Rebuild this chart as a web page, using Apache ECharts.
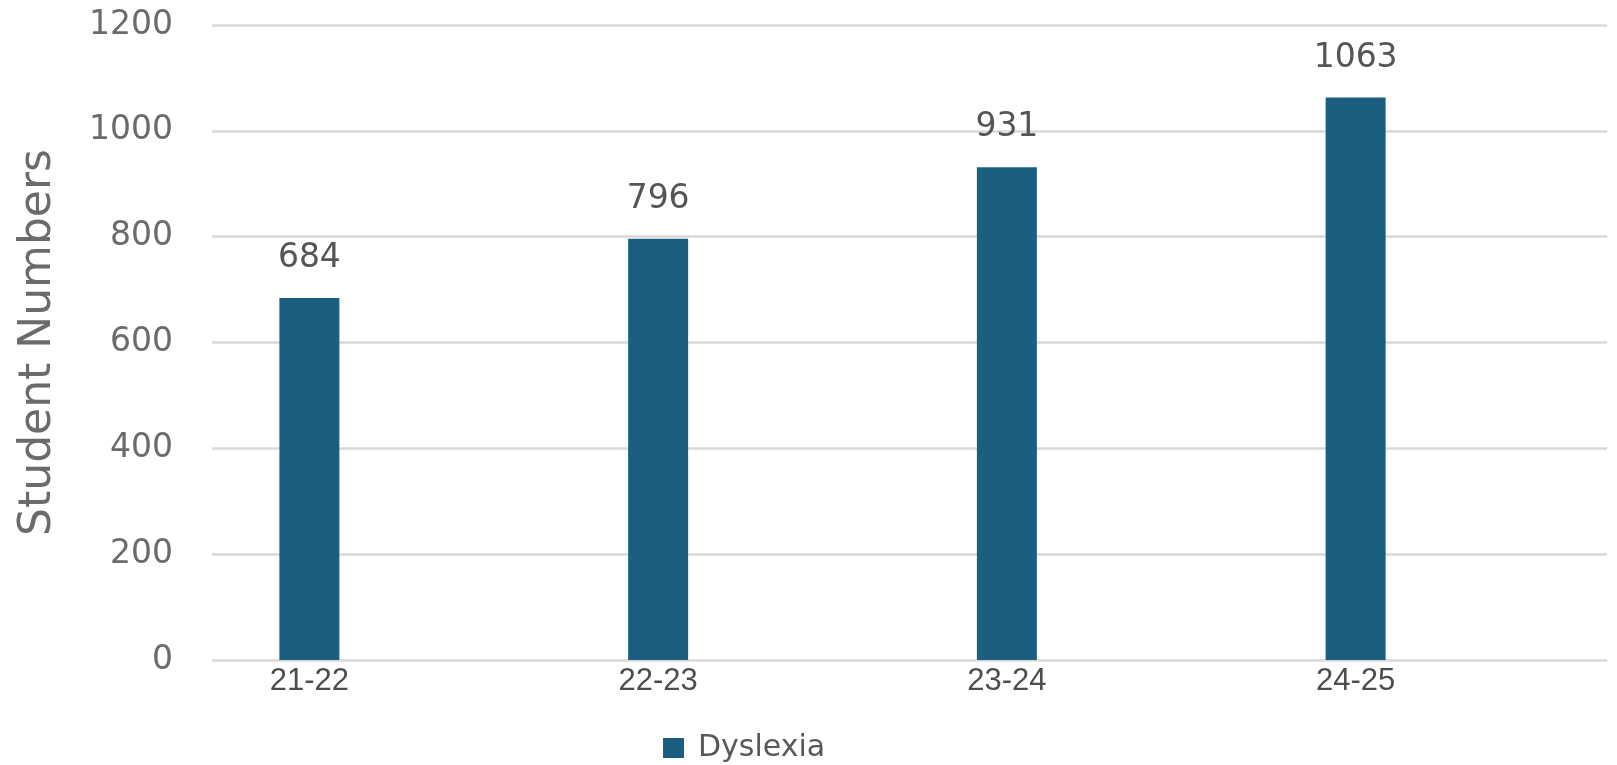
<!DOCTYPE html>
<html>
<head>
<meta charset="utf-8">
<script src="https://cdn.jsdelivr.net/npm/echarts@6/dist/echarts.min.js"></script>
<style>html,body{margin:0;padding:0;background:#fff;}#c{width:1617px;height:765px;}</style>
</head>
<body>
<div id="c"></div>
<script>
const categories = ['21-22', '22-23', '23-24', '24-25'];
const dyslexia = [684, 796, 931, 1063];
const seriesName = 'Dyslexia';
const yTicks = [0, 200, 400, 600, 800, 1000, 1200];

const chart = echarts.init(document.getElementById('c'));
chart.setOption({
  backgroundColor: '#fff',
  animation: false,
  legend: {
    left: 658, top: 728,
    itemWidth: 21, itemHeight: 20, itemGap: 8,
    icon: 'rect',
    textStyle: { fontFamily: 'DejaVu Sans', fontSize: 30, color: '#595959', padding: [0, 0, 0, 9] },
    data: [seriesName]
  },
  grid: [
    { left: 135, right: 87, top: 25, bottom: 105 },
    { left: 212, right: 10, top: 25, bottom: 105 }
  ],
  xAxis: [
    {
      gridIndex: 0, type: 'category', data: categories,
      axisLine: { show: false }, axisTick: { show: false },
      axisLabel: { margin: 6, fontFamily: 'Liberation Sans', fontSize: 31, color: '#4d4d4d' }
    },
    { gridIndex: 1, type: 'value', show: false, min: 0, max: 1 }
  ],
  yAxis: [
    { gridIndex: 0, type: 'value', min: 0, max: 1200, interval: 200, show: false, splitLine: { show: false } },
    {
      gridIndex: 1, type: 'value', min: 0, max: 1200, interval: 200,
      name: 'Student Numbers', nameLocation: 'middle', nameGap: 151, nameRotate: 90,
      nameTextStyle: { fontFamily: 'DejaVu Sans', fontSize: 44, color: '#6b6b6b' },
      axisLine: { show: false }, axisTick: { show: false },
      axisLabel: {
        margin: 39, fontFamily: 'DejaVu Sans', fontSize: 33, color: '#6b6b6b',
        formatter: v => yTicks.includes(v) ? String(v) : ''
      },
      splitLine: { lineStyle: { color: '#d9d9d9', width: 2.5 } }
    }
  ],
  series: [{
    name: seriesName, type: 'bar', xAxisIndex: 0, yAxisIndex: 0,
    data: dyslexia, barWidth: 60,
    itemStyle: { color: '#1b5f80' },
    label: {
      show: true, position: 'top', distance: 23,
      fontFamily: 'DejaVu Sans', fontSize: 33, color: '#555555'
    }
  }]
});
</script>
</body>
</html>
